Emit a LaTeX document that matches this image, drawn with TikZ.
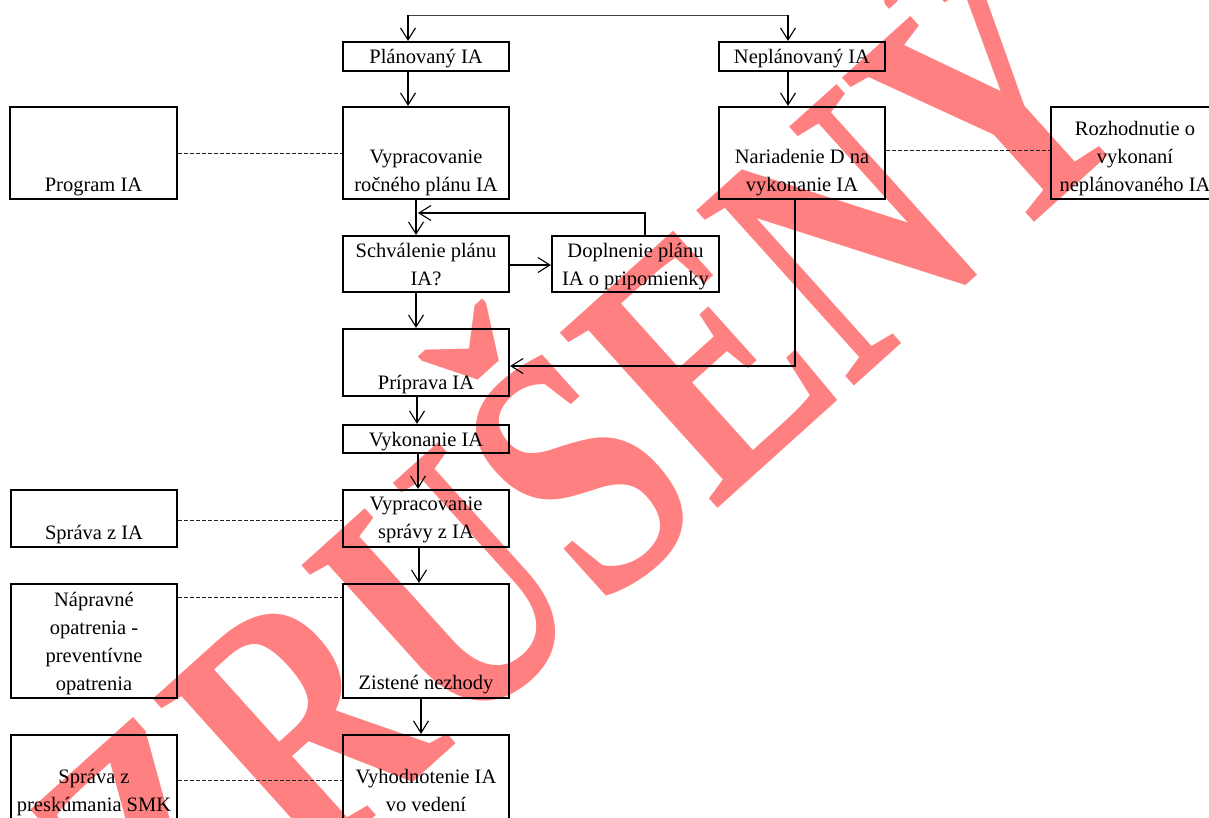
\documentclass[tikz,border=0pt]{standalone}
\usepackage{fontspec}
\setmainfont{Liberation Serif}
\usetikzlibrary{arrows.meta}
\definecolor{wm}{RGB}{255,128,128}
\begin{document}
\begin{tikzpicture}[x=1pt,y=-1pt,
  box/.style={draw, line width=2.2pt, inner sep=0pt},
  txt/.style={inner sep=0pt, text depth=0pt, align=center, anchor=south, font=\fontsize{20.5}{28}\selectfont},
  arr/.style={line width=1.1pt, -{Straight Barb[length=12pt,width=15pt,line width=1.1pt]}},
  dline/.style={line width=1pt, dash pattern=on 4pt off 2pt, draw=black!85},
  wmark/.style={rotate=42, anchor=base, text=wm, inner sep=0pt, font=\bfseries\fontsize{360}{360}\selectfont}]
\useasboundingbox (0,0) rectangle (1209,817);
% watermark
\node[wmark] (wmk) at (658,562) {\scalebox{0.76}[1]{ZRUŠENÝ}};
% boxes
\node[box, minimum width=166pt, minimum height=29pt] (plan) at (426,56.5) {};
\node[box, minimum width=166pt, minimum height=29pt] (neplan) at (802,56.5) {};
\node[box, minimum width=167pt, minimum height=92pt] (prog) at (93.5,153) {};
\node[box, minimum width=166pt, minimum height=92pt] (vyp) at (426,153) {};
\node[box, minimum width=166pt, minimum height=92pt] (nar) at (802,153) {};
\node[box, minimum width=168pt, minimum height=92pt] (rozh) at (1135,153) {};
\node[box, minimum width=166pt, minimum height=56pt] (schv) at (426,264) {};
\node[box, minimum width=167pt, minimum height=56pt] (dopl) at (635.5,264) {};
\node[box, minimum width=166pt, minimum height=67pt] (prip) at (426,362.5) {};
\node[box, minimum width=166pt, minimum height=28pt] (vyk) at (426,439) {};
\node[box, minimum width=166pt, minimum height=57pt] (vsp) at (426,518.5) {};
\node[box, minimum width=166pt, minimum height=57pt] (spr) at (94,518.5) {};
\node[box, minimum width=166pt, minimum height=114pt] (zist) at (426,641) {};
\node[box, minimum width=166pt, minimum height=114pt] (napr) at (94,641) {};
\node[box, minimum width=166pt, minimum height=114pt] (vyh) at (426,792) {};
\node[box, minimum width=166pt, minimum height=114pt] (smk) at (94,792) {};
% texts
\node[txt] (tplan) at (plan.south |- 0,64) {Plánovaný IA};
\node[txt] (tneplan) at (neplan.south |- 0,64) {Neplánovaný IA};
\node[txt] (tprog) at (prog.south |- 0,192) {Program IA};
\node[txt] (tvyp) at (vyp.south |- 0,192) {Vypracovanie\\ročného plánu IA};
\node[txt] (tnar) at (nar.south |- 0,192) {Nariadenie D na\\vykonanie IA};
\node[txt] (trozh) at (rozh.south |- 0,192) {Rozhodnutie o\\vykonaní\\neplánovaného IA};
\node[txt] (tschv) at (schv.south |- 0,286) {Schválenie plánu\\IA?};
\node[txt] (tdopl) at (dopl.south |- 0,286) {Doplnenie plánu\\IA o pripomienky};
\node[txt] (tprip) at (prip.south |- 0,390) {Príprava IA};
\node[txt] (tvyk) at (vyk.south |- 0,447) {Vykonanie IA};
\node[txt] (tvsp) at (vsp.south |- 0,539) {Vypracovanie\\správy z IA};
\node[txt] (tspr) at (spr.south |- 0,540) {Správa z IA};
\node[txt] (tzist) at (zist.south |- 0,690) {Zistené nezhody};
\node[txt] (tnapr) at (napr.south |- 0,691) {Nápravné\\opatrenia -\\preventívne\\opatrenia};
\node[txt] (tvyh) at (vyh.south |- 0,812) {Vyhodnotenie IA\\vo vedení};
\node[txt] (tsmk) at (smk.south |- 0,812) {Správa z\\preskúmania SMK};
% connectors
\coordinate (tl) at (408,15);
\coordinate (tr) at (788,15);
\draw[line width=0.9pt, black!75] (tl) -- (tr);
\draw[arr] (tl) -- (tl |- plan.north);
\draw[arr] (tr) -- (tr |- neplan.north);
\draw[arr] (tl |- plan.south) -- (tl |- vyp.north);
\draw[arr] (tr |- neplan.south) -- (tr |- nar.north);
\coordinate (c1) at (416,0);
\draw[arr] (c1 |- vyp.south) -- (c1 |- schv.north);
\coordinate (lp) at (645,213);
\coordinate (lpe) at (418,213);
\draw[arr] (dopl.north -| lp) -- (lp) -- (lpe);
\draw[arr] (schv.east |- 0,265) -- (dopl.west |- 0,265);
\draw[arr] (c1 |- schv.south) -- (c1 |- prip.north);
\coordinate (nc) at (795,366);
\draw[arr] (nar.south -| nc) -- (nc) -- (prip.east |- nc);
\coordinate (c2) at (417,0);
\draw[arr] (c2 |- prip.south) -- (c2 |- vyk.north);
\coordinate (c3) at (418,0);
\draw[arr] (c3 |- vyk.south) -- (c3 |- vsp.north);
\coordinate (c4) at (419,0);
\draw[arr] (c4 |- vsp.south) -- (c4 |- zist.north);
\coordinate (c5) at (421,0);
\draw[arr] (c5 |- zist.south) -- (c5 |- vyh.north);
% dashed links
\draw[dline] (prog.east |- 0,153) -- (vyp.west |- 0,153);
\draw[dline] (nar.east |- 0,150) -- (rozh.west |- 0,150);
\draw[dline] (spr.east |- 0,520) -- (vsp.west |- 0,520);
\draw[dline] (napr.east |- 0,597) -- (zist.west |- 0,597);
\draw[dline] (smk.east |- 0,780) -- (vyh.west |- 0,780);
\end{tikzpicture}
\end{document}
